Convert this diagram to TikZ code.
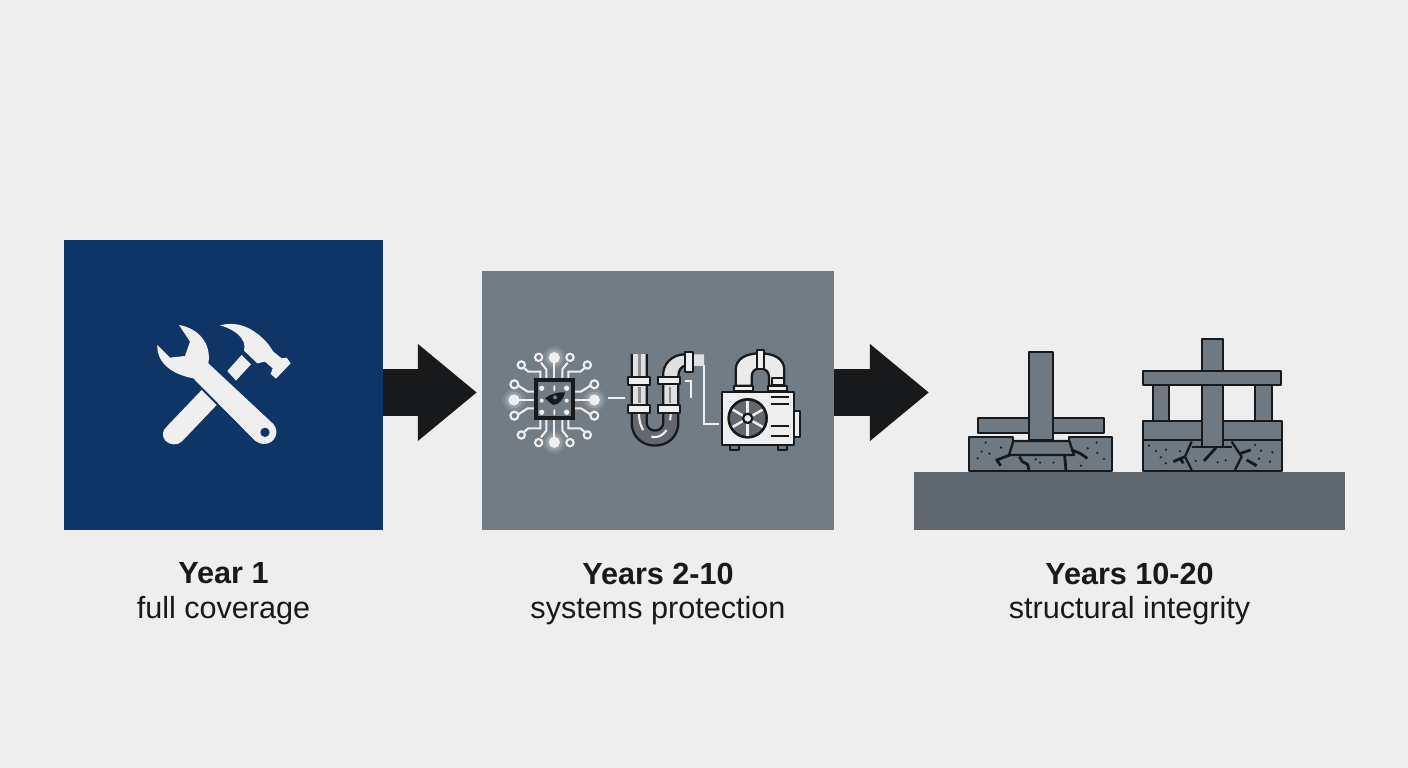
\documentclass[tikz,border=0pt]{standalone}
\usepackage{fontspec}
\setmainfont{Liberation Sans}
\usetikzlibrary{arrows.meta,positioning}

\definecolor{paper}{HTML}{EEEEEE}
\definecolor{navy}{HTML}{0F3566}
\definecolor{steel}{HTML}{727C85}
\definecolor{slab}{HTML}{5F676F}
\definecolor{concrete}{HTML}{6F7982}
\definecolor{ink}{HTML}{17191B}
\definecolor{iconwhite}{HTML}{EFEFEF}
\definecolor{pipegrey}{HTML}{62686E}

\tikzset{
  panel/.style={inner sep=0pt,outer sep=0pt},
  flow/.style={ink,line width=0.47cm,-{Triangle[length=0.59cm,width=0.93cm]}},
  caption/.style={align=center,text=ink,inner sep=0pt,
    font=\fontsize{8.7}{9.75}\selectfont},
  trace/.style={iconwhite,line width=0.6pt},
  part/.style={draw=ink,line width=0.65pt,line join=round},
  crack/.style={ink,line width=0.8pt,line join=round},
  collar/.style={part,fill=iconwhite},
}

\begin{document}
\begin{tikzpicture}[x=0.01cm,y=-0.01cm]
  \useasboundingbox (0,0) rectangle (1408,768);
  \fill[paper] (0,0) rectangle (1408,768);

  \node[panel,fill=navy,minimum width=3.19cm,minimum height=2.9cm] (year1) at (223.5,385) {};
  \node[panel,fill=steel,minimum width=3.52cm,minimum height=2.59cm] (systems) at (658,400.5) {};
  \node[panel,fill=slab,minimum width=4.31cm,minimum height=0.58cm] (ground) at (1129.5,501) {};

  \coordinate (axis) at (0,392.5);
  \coordinate (flowend) at (929,392.5);
  \draw[flow,shorten >=0.05cm] (year1.east |- axis) -- (systems.west |- axis);
  \draw[flow] (systems.east |- axis) -- (flowend);

  \node[caption,below=0.32cm of year1] (year1text) {\textbf{Year 1}\\full coverage};
  \node[caption,below=0.32cm of systems] (systemstext) {\textbf{Years 2-10}\\systems protection};
  \node[caption,below=0.32cm of ground] (groundtext) {\textbf{Years 10-20}\\structural integrity};

  % hammer and wrench
  \begin{scope}[shift={(140,310)},scale=1/3]
    \fill[iconwhite] (185,240) -- (230,285) -- (125,395) .. controls (112,408) and (88,405) .. (76,392)
      .. controls (64,378) and (68,360) .. (80,350) -- cycle;
    \fill[iconwhite] (262,183) -- (305,135) -- (333,163) -- (288,212) -- cycle;
    \fill[iconwhite] (240,46) .. controls (290,33) and (340,50) .. (385,103) -- (400,125) -- (425,145)
      -- (440,143) -- (452,160) -- (408,206) -- (392,192) -- (398,175) -- (375,155) -- (352,160)
      -- (312,122) .. controls (322,88) and (285,58) .. (240,46) -- cycle;
    \fill[iconwhite] (117,45) .. controls (175,55) and (215,100) .. (205,160) -- (400,342)
      .. controls (420,365) and (405,400) .. (375,402) .. controls (362,402) and (352,398) .. (345,392)
      -- (160,205) .. controls (105,195) and (50,165) .. (52,105) -- (90,143) -- (135,138)
      -- (150,95) -- cycle;
    \fill[navy] (375,367) circle (14);
  \end{scope}

  % chip with traces
  \begin{scope}[shift={(500,335)},scale=1/3]
    \foreach \sx/\sy in {1/1,-1/1,1/-1,-1/-1} {
      \begin{scope}[shift={(163,195)},xscale=\sx,yscale=\sy]
        \draw[trace] (0,-60) -- (0,-110);
        \draw[trace] (57,0) -- (105,0);
        \draw[trace] (24,-60) -- (24,-92) -- (40,-112);
        \draw[trace] (42,-60) -- (42,-85) -- (78,-85) -- (90,-95);
        \draw[trace] (57,-25) -- (80,-25) -- (108,-43);
        \draw[trace] (47,-128) circle (11);
        \draw[trace] (99,-105) circle (11);
        \draw[trace] (120,-47) circle (12);
      \end{scope}
    }
    \foreach \p in {(163,68),(163,322),(42,195),(283,195)} {
      \fill[white,opacity=0.1] \p circle (34);
      \fill[white,opacity=0.18] \p circle (25);
      \fill[iconwhite] \p circle (17);
    }
    \filldraw[draw=ink,fill=steel,line width=1.1pt] (108,135) rectangle (220,248);
    \foreach \p in {(125,160),(200,160),(125,232),(200,232)}
      \fill[iconwhite] \p circle (8);
    \foreach \p in {(125,197),(200,197)}
      \fill[iconwhite] \p circle (6);
    \foreach \p in {(163,160),(163,232)}
      \fill[iconwhite] \p ellipse (3 and 10);
    \fill[ink] (135,190) .. controls (150,178) and (175,170) .. (195,172) .. controls (190,195) and (178,208) .. (160,210)
      .. controls (150,208) and (148,198) .. (135,190) -- cycle;
    \fill[steel] (165,187) circle (6);
  \end{scope}

  % drain pipe and condenser
  \begin{scope}[shift={(600,335)},scale=1/3]
    \draw[trace] (25,188) -- (75,188);
    \draw[trace] (255,138) -- (272,138) -- (272,190);
    \draw[trace] (312,90) -- (312,268) -- (357,268);

    \filldraw[fill=pipegrey,draw=none] (95,200) -- (95,262) .. controls (95,355) and (235,355) .. (235,262)
      -- (235,200) -- (190,200) -- (190,262) .. controls (190,295) and (140,295) .. (140,262) -- (140,200) -- cycle;
    \fill[black!12] (95,57) rectangle (140,210);
    \fill[black!12] (185,125) rectangle (235,210);
    \fill[black!45] (113,57) rectangle (122,125);
    \fill[black!45] (113,155) rectangle (122,205);
    \fill[black!45] (206,155) rectangle (214,205);
    \fill[black!12] (185,125) .. controls (185,90) and (215,58) .. (255,58) -- (312,58) -- (312,93) -- (255,93)
      .. controls (245,93) and (235,105) .. (235,125) -- cycle;
    \draw[part] (95,57) -- (95,262) .. controls (95,355) and (235,355) .. (235,262) -- (235,125)
      .. controls (235,105) and (245,93) .. (255,93);
    \draw[part] (140,57) -- (140,262) .. controls (140,295) and (190,295) .. (190,262) -- (190,125)
      .. controls (185,90) and (215,58) .. (255,58);
    \draw[iconwhite,line width=0.6pt,dash pattern=on 5pt off 3pt] (117,235) .. controls (117,330) and (212,330) .. (212,235);
    \filldraw[collar] (85,127) rectangle (150,150);
    \filldraw[collar] (175,125) rectangle (240,148);
    \filldraw[collar] (85,210) rectangle (150,233);
    \filldraw[collar] (175,210) rectangle (240,233);
    \filldraw[collar] (255,50) rectangle (278,110);

    \filldraw[part,fill=black!8] (407,152) -- (407,105) .. controls (407,70) and (440,55) .. (480,55)
      .. controls (520,55) and (553,70) .. (553,105) -- (553,152) -- (507,152) -- (507,125)
      .. controls (507,110) and (495,100) .. (480,100) .. controls (465,100) and (455,110) .. (455,125) -- (455,152) -- cycle;
    \filldraw[collar] (515,128) rectangle (553,150);
    \filldraw[collar] (470,45) rectangle (493,103);
    \filldraw[collar] (402,152) rectangle (460,168);
    \filldraw[collar] (503,152) rectangle (560,168);
    \filldraw[collar] (583,228) rectangle (600,305);
    \filldraw[part,fill=concrete] (390,330) rectangle (417,345);
    \filldraw[part,fill=concrete] (535,330) rectangle (560,345);
    \filldraw[collar] (365,170) rectangle (583,330);
    \filldraw[part,fill=pipegrey] (443,250) circle (57);
    \foreach \a in {30,90,150,210,270,330}
      \draw[iconwhite,line width=0.7pt] (443,250) -- ++(\a:52);
    \draw[part] (443,250) circle (57);
    \filldraw[part,fill=iconwhite] (443,250) circle (14);
    \foreach \y in {187,207,272,303}
      \draw[part] (512,\y) -- (567,\y);
  \end{scope}

  % single column on footing
  \begin{scope}[shift={(960,335)},scale=1/3]
    \filldraw[part,fill=concrete] (53,250) rectangle (433,293);
    \filldraw[part,fill=concrete] (28,408) -- (28,305) -- (160,305) -- (160,320) -- (328,320) -- (328,305)
      -- (457,305) -- (457,408) -- cycle;
    \filldraw[part,fill=concrete] (207,52) rectangle (278,315);
    \filldraw[part,fill=concrete] (160,318) -- (328,318) -- (342,360) -- (147,360) -- cycle;
    \draw[crack] (122,392) -- (110,375) -- (150,360);
    \draw[crack] (178,365) -- (187,380) -- (203,388) -- (207,407);
    \draw[crack] (314,362) -- (318,408);
    \draw[crack] (335,345) -- (360,355) -- (382,370);
    \foreach \p in {(77,323),(65,350),(88,356),(123,338),(53,370),(410,323),(383,340),(412,354),(432,372),(363,392),(280,383),(227,373),(240,383)}
      \fill[ink] \p circle (3.5);
  \end{scope}

  % frame on footing
  \begin{scope}[shift={(1130,335)},scale=1/3]
    \filldraw[part,fill=concrete] (215,12) rectangle (278,108);
    \filldraw[part,fill=concrete] (68,150) rectangle (118,257);
    \filldraw[part,fill=concrete] (375,150) rectangle (425,257);
    \filldraw[part,fill=concrete] (38,257) rectangle (455,315);
    \filldraw[part,fill=concrete] (38,315) rectangle (455,408);
    \filldraw[part,fill=concrete] (38,108) rectangle (453,150);
    \draw[part] (185,320) -- (165,365) -- (185,405);
    \draw[part] (305,320) -- (335,365) -- (315,405);
    \draw[part] (185,335) -- (305,335);
    \filldraw[part,fill=concrete] (215,150) rectangle (278,335);
    \draw[crack] (130,380) -- (165,365);
    \draw[crack] (150,370) -- (160,385);
    \draw[crack] (222,378) -- (258,338);
    \draw[crack] (332,355) -- (362,345);
    \draw[crack] (350,375) -- (380,392);
    \foreach \p in {(57,332),(78,348),(108,344),(150,349),(92,367),(107,385),(197,378),(263,382),(287,376),(375,330),(393,347),(427,352),(387,371),(420,380),(375,392)}
      \fill[ink] \p circle (3.5);
  \end{scope}
\end{tikzpicture}
\end{document}
